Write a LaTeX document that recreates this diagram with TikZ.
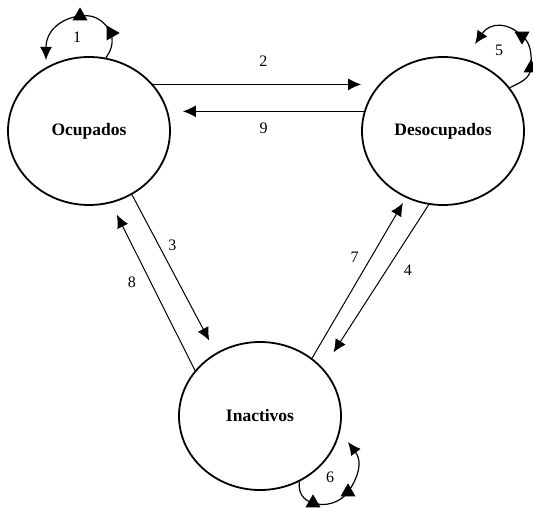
\documentclass[tikz,border=0pt]{standalone}
\usepackage{fontspec}
\setmainfont{Liberation Serif}
\usetikzlibrary{arrows.meta,shapes.geometric}

\begin{document}
\begin{tikzpicture}[x=1pt,y=-1pt,>={Latex[length=13pt,width=12pt]},
                    estado/.style={ellipse,draw,line width=1.8pt,minimum width=162pt,
                      minimum height=148pt,inner sep=0pt,
                      font=\fontsize{17.5}{20}\selectfont\bfseries},
                    num/.style={inner sep=0pt,font=\fontsize{16}{18}\selectfont},
                    flecha/.style={->,line width=1pt},
                    lazo/.style={line width=1.2pt,-{Latex[length=13pt,width=12pt]}},
                    tri/.style={isosceles triangle,isosceles triangle apex angle=60,
                      fill,inner sep=0pt,minimum size=13pt}]
 \useasboundingbox (0,0) rectangle (533,508);

 \node [estado] (O) at (89,131) {Ocupados};
 \node [estado] (D) at (443,131) {Desocupados};
 \node [estado] (I) at (260,416) {Inactivos};

 \coordinate (e1) at (46,60);
 \coordinate (e5) at (475,44);
 \coordinate (e6) at (348,442);

 \path[flecha]
       (O.36)  edge node[num,pos=.53,above=17pt]{2} (O.36 -| D.west)
       (D.166) edge[shorten >=12pt] node[num,pos=.52,below=11pt]{9} (D.166 -| O.east)
       (O.-56) edge[shorten >=14pt] node[num,pos=.32,right=9pt]{3} (I.125)
       (I.145) edge[shorten >=13pt] node[num,pos=.53,left=14pt]{8} (O.-73)
       (I.48)  edge[shorten >=6pt]  node[num,pos=.63,left=12pt]{7} (D.-119)
       (D.-101) edge[shorten >=19pt] node[num,pos=.4,right=17pt]{4} (I.37)
 ;

 % lazos
 \draw[lazo] (O.77) .. controls (113,48) and (113,40) .. (111,33)
       node[tri,shape border rotate=0] (t1a) {}
       .. controls (104,20) and (94,14) .. (80,16)
       node[tri,shape border rotate=90] (t1b) {}
       .. controls (62,18) and (46,30) .. (e1);
 \node[num] (n1) at (77,37) {1};

 \draw[lazo] (D.33) .. controls (522,82) and (530,78) .. (531,68)
       node[tri,shape border rotate=90] (t5a) {}
       .. controls (532,52) and (530,42) .. (522,36)
       node[tri,shape border rotate=270] (t5b) {}
       .. controls (508,22) and (490,22) .. (e5);
 \node[num] (n5) at (499,50) {5};

 \draw[lazo] (I.-59) .. controls (298,493) and (303,500) .. (313,503)
       node[tri,shape border rotate=60] (t6a) {}
       .. controls (325,507) and (340,503) .. (348,492)
       node[tri,shape border rotate=90] (t6b) {}
       .. controls (358,478) and (363,462) .. (e6);
 \node[num] (n6) at (330,477) {6};

\end{tikzpicture}
\end{document}
